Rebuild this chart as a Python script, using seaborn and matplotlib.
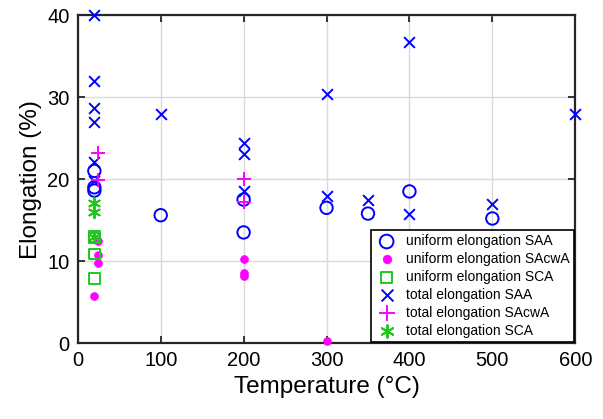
import numpy as np
import pandas as pd
import matplotlib
matplotlib.use("Agg")
import matplotlib.pyplot as plt
import seaborn as sns

# uniform elongation
uni_saa_t = [20, 20, 20, 100, 200, 200, 300, 350, 400, 500]
uni_saa_e = [21.0, 19.0, 18.6, 15.6, 17.5, 13.5, 16.5, 15.8, 18.5, 15.2]
uni_sacwa_t = [24, 24, 24, 20, 200, 200, 200, 300]
uni_sacwa_e = [12.5, 10.7, 9.8, 5.8, 10.3, 8.6, 8.2, 0.3]
uni_sca_t = [20, 20, 20, 20]
uni_sca_e = [13.0, 12.8, 10.9, 7.9]

# total elongation
tot_saa_t = [20, 20, 20, 20, 20, 20, 100, 200, 200, 200, 300, 300, 350, 400, 400, 500, 600]
tot_saa_e = [40.0, 32.0, 28.7, 27.0, 22.1, 19.8, 28.0, 24.4, 23.1, 18.5, 30.4, 18.0,
             17.4, 36.7, 15.8, 17.0, 28.0]
tot_sacwa_t = [24, 24, 200, 200]
tot_sacwa_e = [23.2, 19.9, 20.0, 17.2]
tot_sca_t = [20, 20, 20]
tot_sca_e = [17.1, 16.0, 13.0]

BLUE = "#0000ff"
PINK = "#ff00ff"
GREEN = "#1ec81e"

sns.set_style("ticks")
plt.rcParams["font.family"] = ["Liberation Sans", "DejaVu Sans"]
plt.rcParams["text.color"] = "black"
plt.rcParams["axes.labelcolor"] = "black"

fig = plt.figure(figsize=(6.03, 4.19), dpi=100)
ax = fig.add_axes([0.129, 0.181, 0.825, 0.783])

series = [
    (uni_saa_t, uni_saa_e, "o", BLUE, 80, "uniform elongation SAA", True),
    (uni_sacwa_t, uni_sacwa_e, "o", PINK, 32, "uniform elongation SAcwA", False),
    (uni_sca_t, uni_sca_e, "s", GREEN, 55, "uniform elongation SCA", True),
    (tot_saa_t, tot_saa_e, "x", BLUE, 60, "total elongation SAA", False),
    (tot_sacwa_t, tot_sacwa_e, "+", PINK, 110, "total elongation SAcwA", False),
    (tot_sca_t, tot_sca_e, (6, 2, 0), GREEN, 70, "total elongation SCA", False),
]

for t, e, mk, col, size, lab, hollow in series:
    df = pd.DataFrame({"T": t, "E": e})
    if hollow:
        sns.scatterplot(data=df, x="T", y="E", marker=mk, s=size, color=col,
                        edgecolor=col, linewidth=1.4, label=lab, ax=ax, zorder=3)
        ax.collections[-1].set_facecolor("none")
    elif mk == "o":
        sns.scatterplot(data=df, x="T", y="E", marker=mk, s=size, color=col,
                        edgecolor=col, linewidth=0.5, label=lab, ax=ax, zorder=3)
    else:
        sns.scatterplot(data=df, x="T", y="E", marker=mk, s=size, color=col,
                        linewidth=1.4, label=lab, ax=ax, zorder=3)
    ax.collections[-1].set_clip_on(False)

ax.set_xlim(0, 600)
ax.set_ylim(0, 40)
ax.set_xticks(np.arange(0, 601, 100))
ax.set_yticks(np.arange(0, 41, 10))
ax.grid(True, color="#d9d9d9", linewidth=1.0)
ax.set_axisbelow(True)
ax.tick_params(direction="in", top=True, right=True, labelsize=14.5, length=5,
               width=1.3, color="#262626", labelcolor="black", pad=6)
for sp in ax.spines.values():
    sp.set_visible(True)
    sp.set_linewidth(1.6)
    sp.set_color("#262626")

ax.set_xlabel("Temperature (°C)", fontsize=17.5, labelpad=4)
ax.set_ylabel("Elongation (%)", fontsize=17.5, labelpad=4)

leg = ax.legend(loc="lower right", fontsize=10, frameon=True, fancybox=False,
                framealpha=1, edgecolor="black", borderaxespad=0.1,
                handletextpad=0.6, labelspacing=0.28, borderpad=0.3,
                handlelength=1.6, markerscale=1.1)
leg.get_frame().set_linewidth(1.2)
leg.set_zorder(5)

fig.savefig("out.png", dpi=100)
